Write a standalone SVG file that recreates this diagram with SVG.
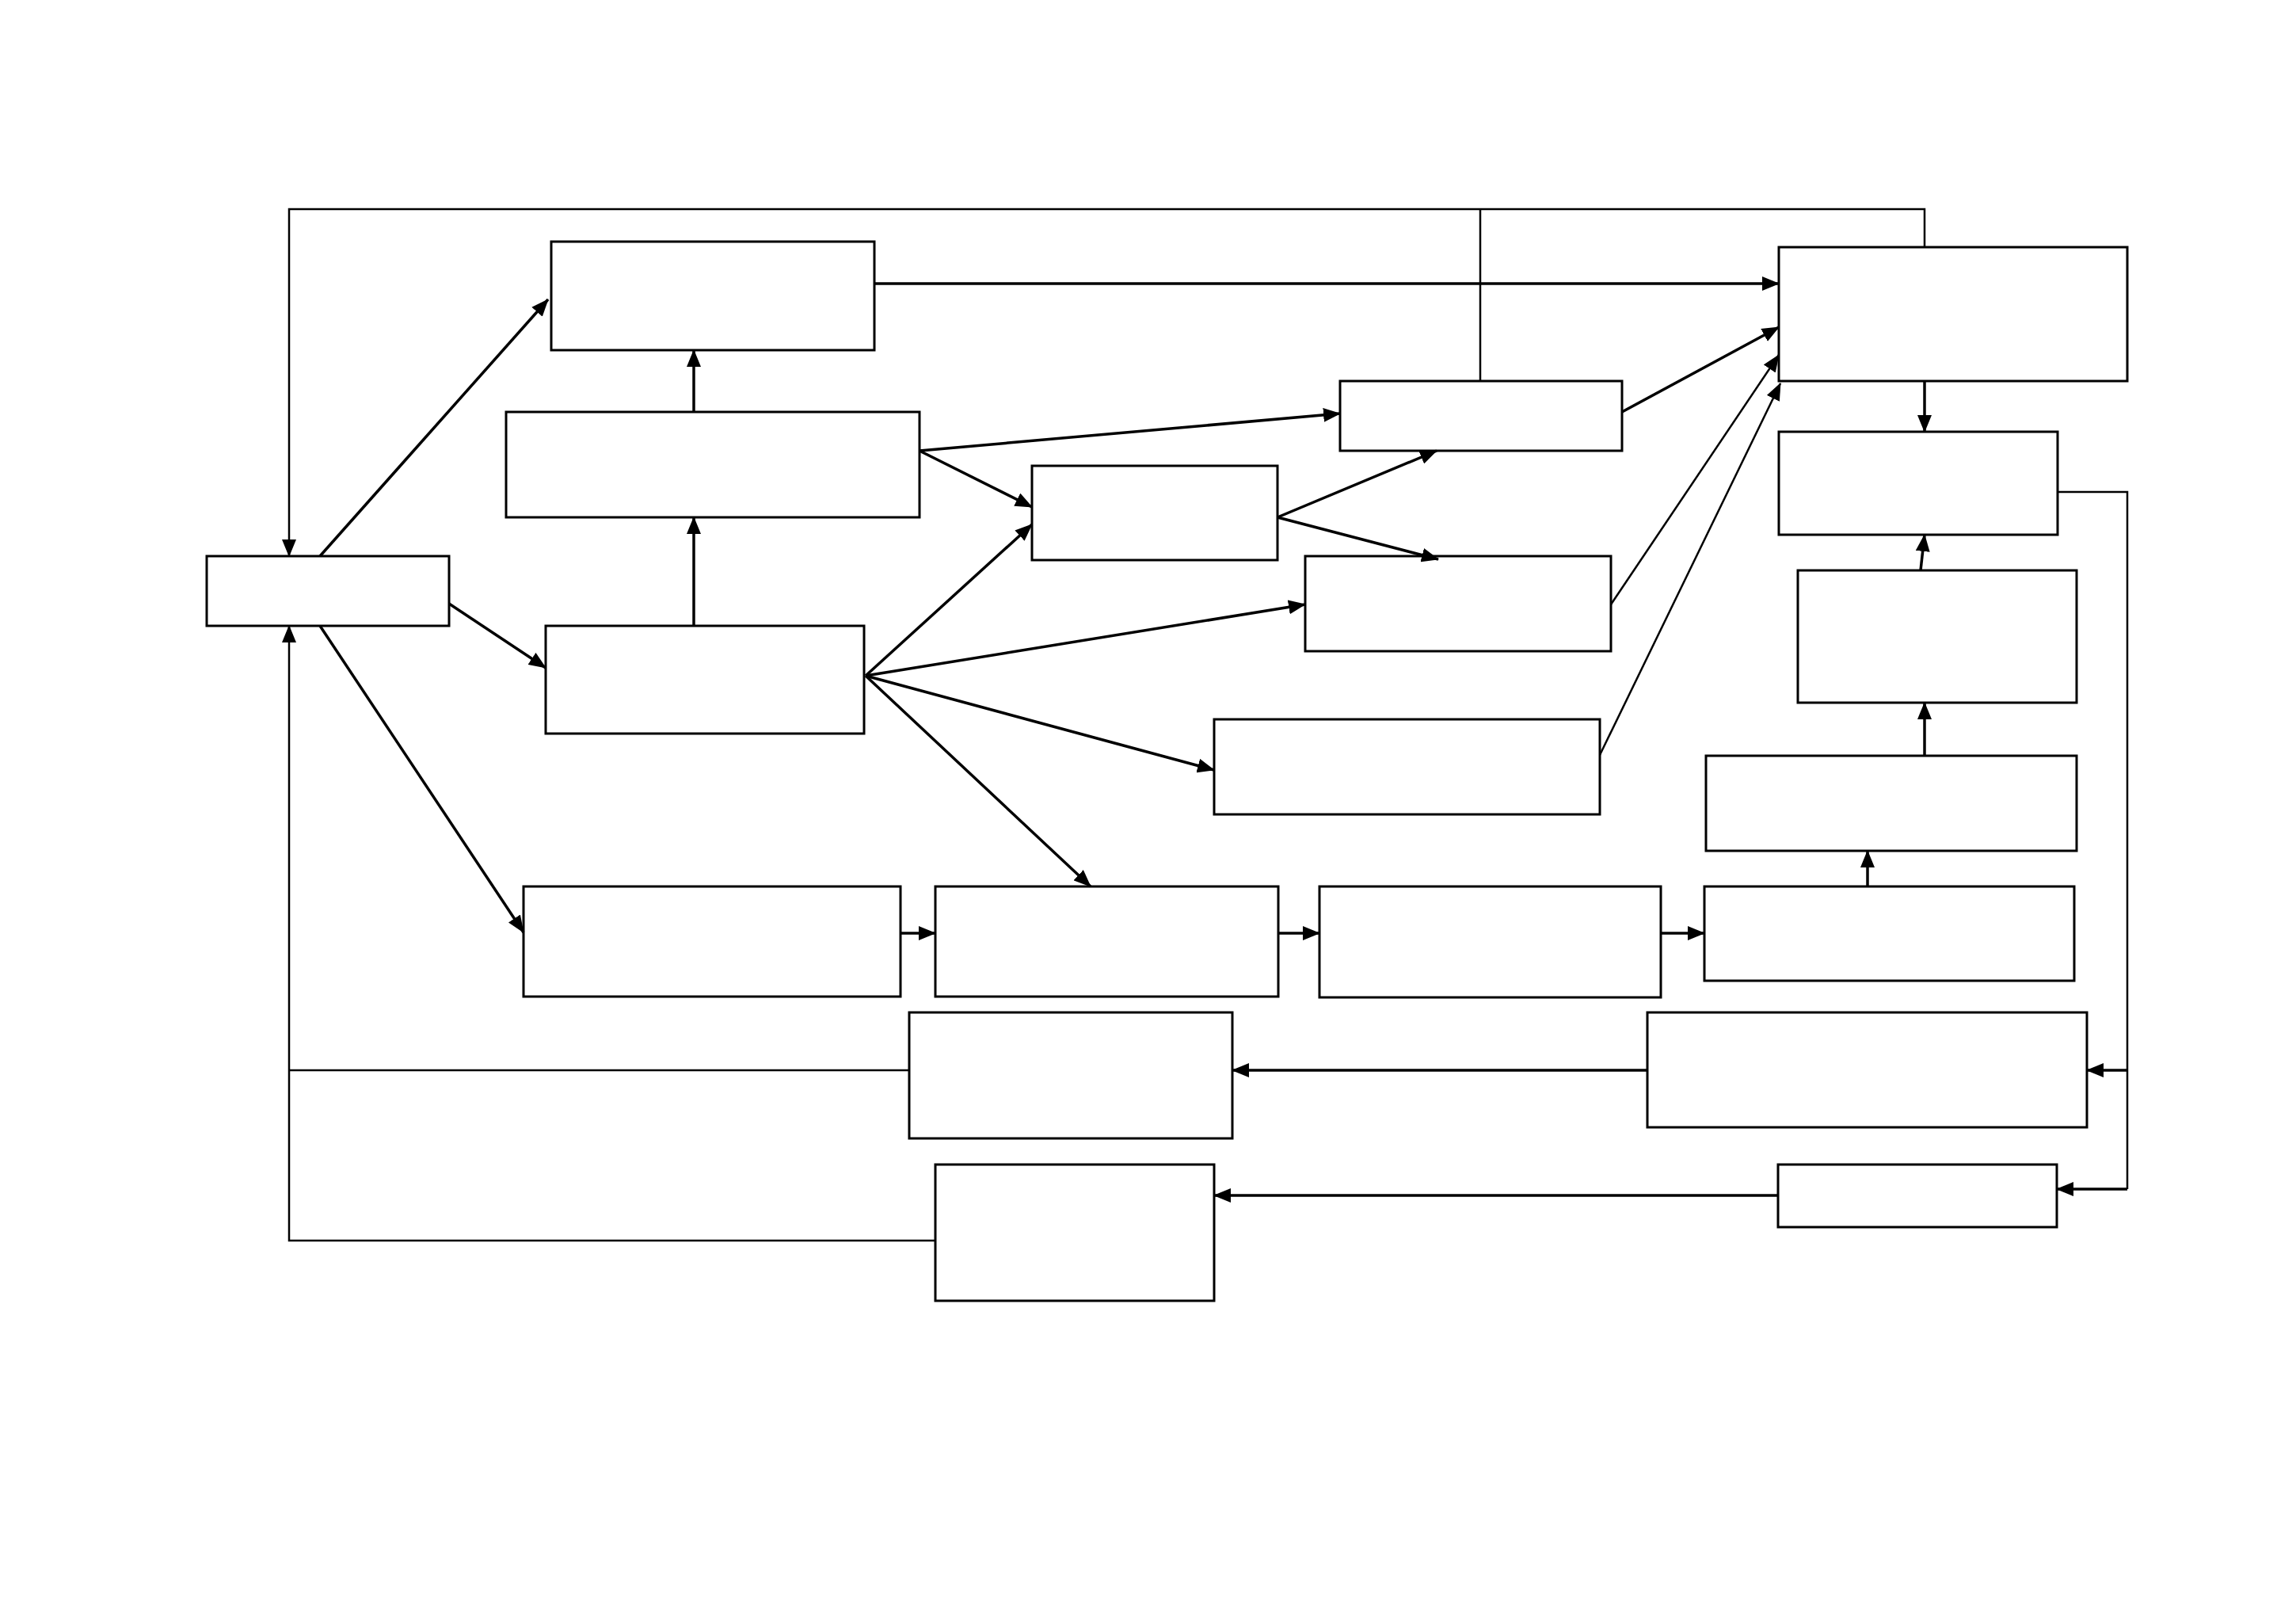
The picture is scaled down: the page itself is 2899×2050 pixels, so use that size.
<svg xmlns="http://www.w3.org/2000/svg" width="2899" height="2050" viewBox="0 0 2899 2050">
<defs>
<marker id="ah" markerUnits="userSpaceOnUse" markerWidth="22" markerHeight="18" refX="21" refY="9" orient="auto">
<path d="M0,0 L22,9 L0,18 Z" fill="#000"/>
</marker>
</defs>
<style>
.box{fill:#fff;stroke:#000;stroke-width:3}
.c{fill:none;stroke:#000;stroke-width:3.5}
.t{fill:none;stroke:#000;stroke-width:2.5}
.a{marker-end:url(#ah)}
</style>
<rect width="2899" height="2050" fill="#fff"/>
<g id="nodeA"><rect class="box" x="696" y="305" width="408" height="137"/></g>
<g id="nodeB"><rect class="box" x="639" y="520" width="522" height="133"/></g>
<g id="nodeC"><rect class="box" x="261" y="702" width="306" height="88"/></g>
<g id="nodeD"><rect class="box" x="689" y="790" width="402" height="136"/></g>
<g id="nodeE"><rect class="box" x="1303" y="588" width="310" height="119"/></g>
<g id="nodeF"><rect class="box" x="1692" y="481" width="356" height="88"/></g>
<g id="nodeG"><rect class="box" x="1648" y="702" width="386" height="120"/></g>
<g id="nodeH"><rect class="box" x="1533" y="908" width="487" height="120"/></g>
<g id="nodeI"><rect class="box" x="2246" y="312" width="440" height="169"/></g>
<g id="nodeJ"><rect class="box" x="2246" y="545" width="352" height="130"/></g>
<g id="nodeK"><rect class="box" x="2270" y="720" width="352" height="167"/></g>
<g id="nodeL"><rect class="box" x="2154" y="954" width="468" height="120"/></g>
<g id="nodeM"><rect class="box" x="661" y="1119" width="476" height="139"/></g>
<g id="nodeN"><rect class="box" x="1181" y="1119" width="433" height="139"/></g>
<g id="nodeO"><rect class="box" x="1666" y="1119" width="431" height="140"/></g>
<g id="nodeP"><rect class="box" x="2152" y="1119" width="467" height="119"/></g>
<g id="nodeQ"><rect class="box" x="1148" y="1278" width="408" height="159"/></g>
<g id="nodeR"><rect class="box" x="2080" y="1278" width="555" height="145"/></g>
<g id="nodeS"><rect class="box" x="1181" y="1470" width="352" height="172"/></g>
<g id="nodeT"><rect class="box" x="2245" y="1470" width="352" height="79"/></g>
<g id="connectors">
<path class="t a" d="M2430,312 L2430,264 L365,264 L365,702"/>
<path class="t" d="M1869,481 L1869,264"/>
<path class="c a" d="M404,702 L692,378"/>
<path class="c a" d="M567,762 L689,843"/>
<path class="c a" d="M404,790 L661,1177"/>
<path class="c a" d="M876,790 L876,653"/>
<path class="c a" d="M876,520 L876,442"/>
<path class="c a" d="M1104,358 L2246,358"/>
<path class="c a" d="M1161,569 L1692,522"/>
<path class="c a" d="M1161,569 L1303,640"/>
<path class="c a" d="M1093,853 L1303,662"/>
<path class="c a" d="M1093,853 L1648,763"/>
<path class="c a" d="M1093,853 L1533,972"/>
<path class="c a" d="M1093,853 L1377,1119"/>
<path class="c a" d="M1613,653 L1814,569"/>
<path class="c a" d="M1613,653 L1816,706"/>
<path class="c a" d="M2048,520 L2246,413"/>
<path class="t a" d="M2034,763 L2246,448"/>
<path class="t a" d="M2020,953 L2248,484"/>
<path class="c a" d="M2430,481 L2430,545"/>
<path class="c a" d="M2425,720 L2430,675"/>
<path class="c a" d="M2430,954 L2430,887"/>
<path class="c a" d="M2358,1119 L2358,1074"/>
<path class="c a" d="M1137,1178 L1181,1178"/>
<path class="c a" d="M1614,1178 L1666,1178"/>
<path class="c a" d="M2097,1178 L2152,1178"/>
<path class="t" d="M2598,621 L2686,621 L2686,1501"/>
<path class="c a" d="M2686,1501 L2597,1501"/>
<path class="c a" d="M2686,1351 L2635,1351"/>
<path class="c a" d="M2080,1351 L1556,1351"/>
<path class="c a" d="M2245,1509 L1533,1509"/>
<path class="t" d="M1148,1351 L365,1351"/>
<path class="t a" d="M1181,1566 L365,1566 L365,790"/>
</g>
</svg>
